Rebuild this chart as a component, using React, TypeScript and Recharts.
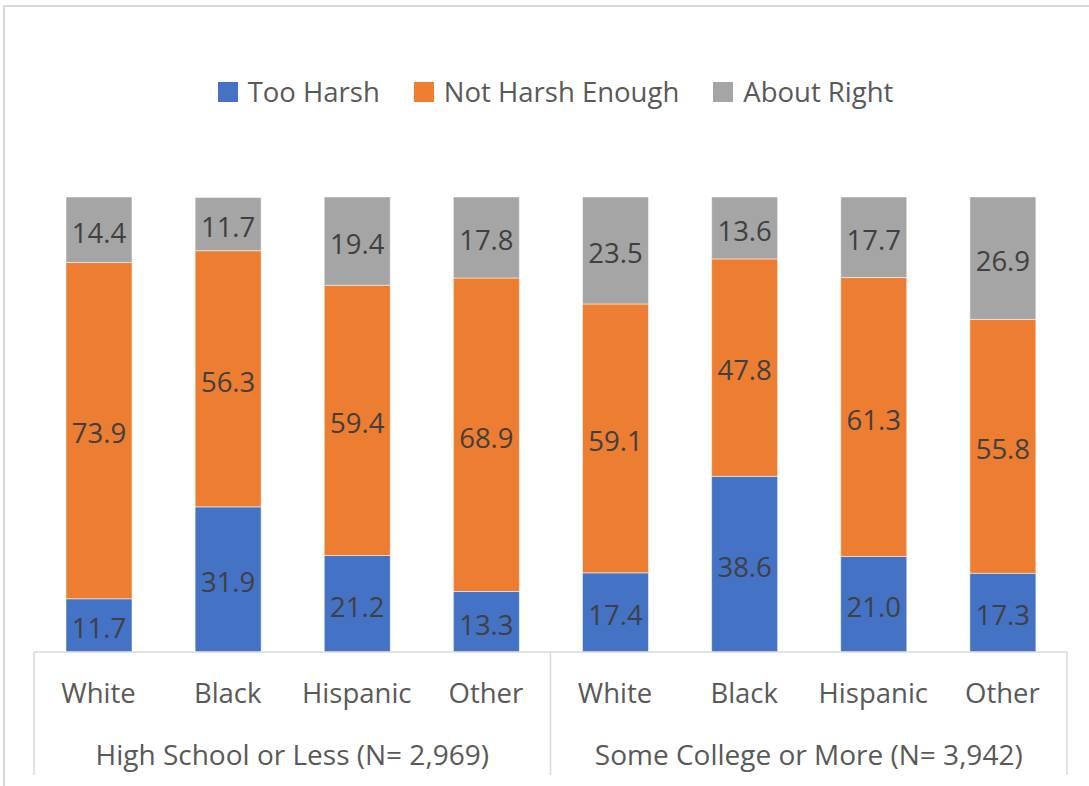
import React from "react";
import { BarChart, Bar, XAxis, YAxis, LabelList } from "recharts";

const races = ["White", "Black", "Hispanic", "Other", "White", "Black", "Hispanic", "Other"];
const groups = ["High School or Less (N= 2,969)", "Some College or More (N= 3,942)"];
const tooHarsh = [11.7, 31.9, 21.2, 13.3, 17.4, 38.6, 21.0, 17.3];
const notHarshEnough = [73.9, 56.3, 59.4, 68.9, 59.1, 47.8, 61.3, 55.8];
const aboutRight = [14.4, 11.7, 19.4, 17.8, 23.5, 13.6, 17.7, 26.9];

const series = [
  { key: "tooHarsh", name: "Too Harsh", color: "#4472C4" },
  { key: "notHarshEnough", name: "Not Harsh Enough", color: "#ED7D31" },
  { key: "aboutRight", name: "About Right", color: "#A5A5A5" },
];

const data = races.map((race, i) => ({
  key: i,
  race,
  group: groups[Math.floor(i / 4)],
  tooHarsh: tooHarsh[i],
  notHarshEnough: notHarshEnough[i],
  aboutRight: aboutRight[i],
}));

const FONT = "'Open Sans', sans-serif";
const W = 1089;
const H = 786;
const LEFT = 34;
const RIGHT = 22;
const AXIS_H = 134;
const BAND = (W - LEFT - RIGHT) / races.length;

const Tick = (props: any) => {
  const { x, y, index } = props;
  const lineColor = "#d9d9d9";
  const bottom = H - 11;
  return (
    <g>
      <text
        x={x}
        y={y + 51}
        textAnchor="middle"
        fill="#595959"
        fontSize={27.5}
        fontFamily={FONT}
      >
        {races[index]}
      </text>
      {index % 4 === 0 && (
        <>
          <line x1={x - BAND / 2} x2={x - BAND / 2} y1={y} y2={bottom} stroke={lineColor} strokeWidth={1.5} />
          <text
            x={x + BAND * 1.5}
            y={y + 113}
            textAnchor="middle"
            fill="#595959"
            fontSize={28}
            fontFamily={FONT}
          >
            {groups[index / 4]}
          </text>
        </>
      )}
      {index === races.length - 1 && (
        <line x1={x + BAND / 2} x2={x + BAND / 2} y1={y} y2={bottom} stroke={lineColor} strokeWidth={1.5} />
      )}
    </g>
  );
};

const App = () => {
  return (
    <div style={{ position: "absolute", left: 0, top: 0, width: W, height: H, background: "#fff", overflow: "hidden" }}>
      <div
        style={{
          position: "absolute",
          left: 3,
          top: 5,
          width: W - 3,
          height: H - 5,
          borderTop: "2px solid #d9d9d9",
          borderLeft: "2px solid #d9d9d9",
        }}
      />
      <div
        style={{
          position: "absolute",
          top: 74,
          left: 22,
          width: W - 22,
          display: "flex",
          justifyContent: "center",
          fontFamily: FONT,
          fontSize: 27.5,
          color: "#595959",
          lineHeight: "36px",
        }}
      >
        {series.map((s) => (
          <div key={s.key} style={{ display: "flex", alignItems: "center", margin: "0 17px" }}>
            <span style={{ width: 20, height: 20, background: s.color, marginRight: 10, display: "inline-block" }} />
            <span>{s.name}</span>
          </div>
        ))}
      </div>
      <BarChart
        width={W}
        height={H}
        data={data}
        margin={{ top: 197, right: RIGHT, bottom: 0, left: LEFT }}
        barSize={66}
        style={{ position: "absolute", left: 0, top: 0 }}
      >
        <YAxis hide type="number" domain={[0, 100]} />
        <XAxis
          dataKey="key"
          type="category"
          height={AXIS_H}
          axisLine={{ stroke: "#d9d9d9", strokeWidth: 1.5 }}
          tickLine={false}
          tickSize={0}
          tickMargin={0}
          interval={0}
          tick={<Tick />}
        />
        {series.map((s) => (
          <Bar
            key={s.key}
            dataKey={s.key}
            name={s.name}
            stackId="a"
            fill={s.color}
            stroke="#ffffff"
            strokeWidth={0.5}
            isAnimationActive={false}
          >
            <LabelList
              dataKey={s.key}
              position="center"
              formatter={(v: any) => Number(v).toFixed(1)}
              fill="#404040"
              fontSize={27.5}
              fontFamily={FONT}
              dy={3}
            />
          </Bar>
        ))}
      </BarChart>
    </div>
  );
};

export default App;
